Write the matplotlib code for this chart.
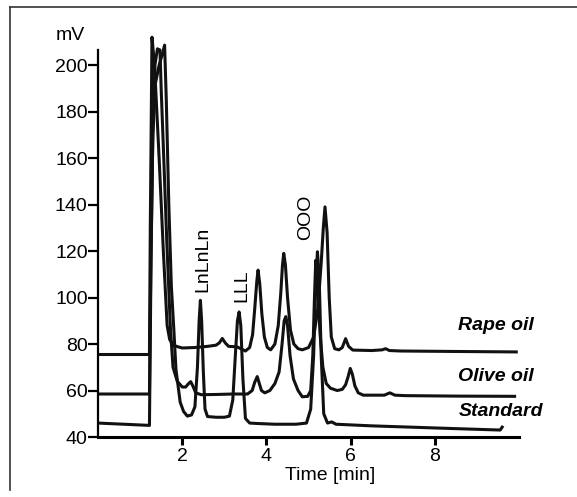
import matplotlib
matplotlib.use("Agg")
import matplotlib.pyplot as plt
from matplotlib.lines import Line2D

plt.rcParams['font.family'] = ['Liberation Sans', 'DejaVu Sans']

# values (time in min, signal in mV)
rape_t = [0, 1.22, 1.24, 1.28, 1.34, 1.45, 1.55, 1.64, 1.70, 1.78, 1.90, 2.0, 2.3, 2.6,
          2.8, 2.88, 2.95, 3.02, 3.10, 3.3, 3.50, 3.60, 3.67, 3.72, 3.77, 3.80, 3.84, 3.89,
          3.95, 4.02, 4.10, 4.20, 4.28, 4.34, 4.38, 4.41, 4.45, 4.50, 4.57, 4.65, 4.75,
          4.85, 5.0, 5.12, 5.22, 5.30, 5.35, 5.39, 5.44, 5.49, 5.54, 5.62, 5.72, 5.80,
          5.88, 5.95, 6.05, 6.5, 6.75, 6.83, 6.92, 7.2, 8.5, 9.97]
rape_mv = [75.5, 75.5, 130, 212, 200, 160, 120, 88, 82, 79.5, 78.8, 78.3, 78.5, 79,
           79.5, 80.5, 82.4, 80.5, 79, 78.8, 77, 78.5, 84, 95, 107, 111.8, 106, 93,
           83, 78.5, 77.5, 80, 88, 102, 114, 119, 114, 100, 86, 80, 78,
           77.5, 78.5, 83, 95, 115, 130, 139, 128, 100, 83, 78, 77.5, 78.5,
           82.3, 79, 77.4, 77.2, 77.5, 78, 77.2, 77, 76.8, 76.6]

olive_t = [0, 1.22, 1.25, 1.30, 1.35, 1.41, 1.47, 1.50, 1.56, 1.63, 1.72, 1.78, 1.88,
           2.0, 2.08, 2.15, 2.20, 2.25, 2.32, 2.45, 2.8, 3.2, 3.55, 3.66, 3.72, 3.78,
           3.83, 3.88, 3.96, 4.08, 4.20, 4.30, 4.37, 4.42, 4.46, 4.50, 4.56, 4.64,
           4.75, 4.85, 4.98, 5.05, 5.10, 5.14, 5.17, 5.21, 5.27, 5.34, 5.42, 5.52,
           5.68, 5.80, 5.88, 5.94, 5.99, 6.04, 6.10, 6.18, 6.30, 6.60, 6.80, 6.93,
           7.05, 7.3, 8.5, 9.93]
olive_mv = [58.5, 58.5, 110, 170, 200, 207, 206.5, 189, 160, 125, 86, 70, 64,
            61.5, 61.5, 63, 63.8, 62, 59, 58.2, 58.3, 58.5, 58.5, 60, 63.5, 66,
            63, 60, 59, 60, 63, 68, 80, 90, 91.8, 88, 75, 65,
            60, 57.3, 57.5, 60, 75, 100, 116, 110, 85, 70, 63, 61,
            60, 60.5, 62.5, 66, 69.5, 67, 62, 59, 58, 58, 58, 59,
            58, 57.8, 57.6, 57.5]

std_t = [0, 1.22, 1.26, 1.30, 1.36, 1.45, 1.53, 1.58, 1.62, 1.68, 1.74, 1.80, 1.85,
         1.95, 2.03, 2.12, 2.22, 2.30, 2.36, 2.40, 2.43, 2.46, 2.50, 2.54, 2.60,
         2.80, 3.00, 3.12, 3.20, 3.26, 3.31, 3.35, 3.39, 3.44, 3.50, 3.60, 3.80,
         4.20, 4.70, 4.95, 5.05, 5.12, 5.17, 5.21, 5.25, 5.30, 5.36, 5.45, 5.55,
         5.65, 6.5, 7.5, 8.5, 9.55, 9.62]
std_mv = [46, 45, 120, 170, 192, 200, 205, 208.6, 185, 140, 105, 86, 69,
          55, 51, 49, 49.5, 53, 70, 90, 98.8, 90, 68, 52, 48.8,
          48.5, 48.5, 49, 56, 75, 90, 93.8, 88, 65, 48, 46, 45.8,
          45.5, 45.5, 46, 52, 75, 105, 119.7, 110, 75, 50, 46, 46.5,
          45.5, 44.8, 44.2, 43.6, 43, 44.8]

series_names = ['Rape oil', 'Olive oil', 'Standard']
series_label_y = [88, 66, 50.8]
peak_names = ['LnLnLn', 'LLL', 'OOO']
peak_label_t = [2.5, 3.42, 4.93]
peak_label_mv = [102.5, 98.2, 124.7]

fig = plt.figure(figsize=(5.77, 4.97), dpi=100)
ax = fig.add_axes([0.170, 0.1207, 0.7296, 0.7787])

for t, mv in [(rape_t, rape_mv), (olive_t, olive_mv), (std_t, std_mv)]:
    ax.plot(t, mv, color='#111111', lw=2.2, clip_on=False,
            solid_joinstyle='round', solid_capstyle='butt')

ax.set_xlim(0, 10)
ax.set_ylim(40, 206.5)
ax.set_xticks([2, 4, 6, 8])
ax.set_yticks(range(40, 201, 20))
ax.spines['top'].set_visible(False)
ax.spines['right'].set_visible(False)
ax.spines['left'].set_linewidth(1.6)
ax.spines['bottom'].set_linewidth(2.2)
ax.tick_params(axis='y', direction='out', length=7, width=1.6, pad=0.5, labelsize=14)
ax.tick_params(axis='x', direction='out', length=6, width=2.2, pad=2, labelsize=14)

for name, y in zip(series_names, series_label_y):
    ax.text(8.56, y, name, fontsize=14, fontweight='bold', fontstyle='italic',
            ha='left', va='center', clip_on=False)

for name, t, mv in zip(peak_names, peak_label_t, peak_label_mv):
    ax.text(t, mv, name, fontsize=14, rotation=90, ha='center', va='bottom')

fig.text(70 / 577, 1 - 36 / 497, 'mV', fontsize=14, ha='center', va='center')
fig.text(330 / 577, 1 - 475 / 497, 'Time [min]', fontsize=14, ha='center', va='center')

# scanned page border (only top and left edges visible)
y_top = 1 - 7 / 497
x_left = 10 / 577
fig.add_artist(Line2D([x_left, 1], [y_top, y_top], transform=fig.transFigure,
                      color='#333333', lw=1.2))
fig.add_artist(Line2D([x_left, x_left], [y_top, 1 - 490 / 497], transform=fig.transFigure,
                      color='#333333', lw=1.2))

fig.savefig('out.png', dpi=100)
